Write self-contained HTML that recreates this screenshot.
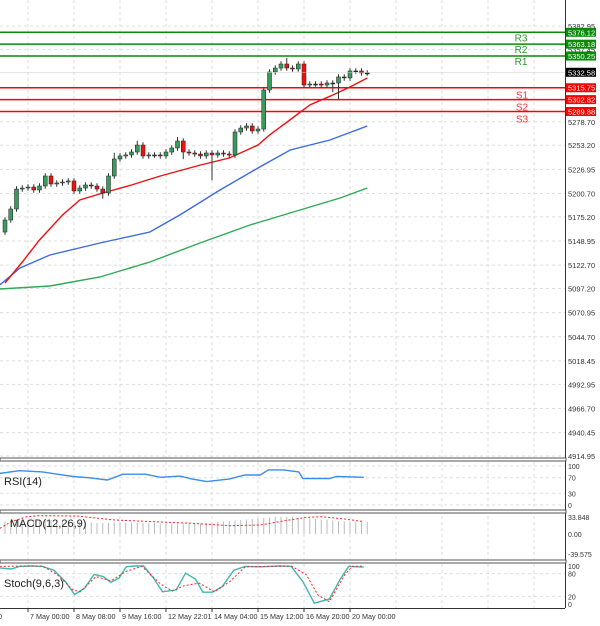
<!DOCTYPE html>
<html><head><meta charset="utf-8"><style>
body{margin:0;background:#fff;}
svg{display:block;font-family:"Liberation Sans",sans-serif;}
</style></head><body>
<svg id="c" width="600" height="626" viewBox="0 0 600 626"></svg>
<script>
// ===== data =====
const closes=[5171.8,5183.8,5205.5,5206.6,5207.7,5204.5,5208.8,5219.7,5211.0,5212.1,5213.2,5214.3,5203.4,5206.6,5209.9,5208.8,5205.5,5201.2,5219.7,5238.2,5241.5,5242.6,5245.8,5253.4,5241.5,5242.6,5242.6,5241.5,5245.8,5250.2,5257.8,5245.8,5244.7,5243.6,5241.5,5244.7,5242.6,5244.7,5243.6,5242.6,5267.6,5271.9,5274.1,5268.7,5270.8,5313.3,5332.9,5337.2,5341.6,5337.2,5336.2,5341.6,5318.7,5319.8,5319.8,5318.7,5320.9,5320.9,5327.5,5326.4,5334.0,5334.0,5331.8,5331.8];
const firstOpen=5158.7;
const wickExtHi={49:5348.0,19:5245,23:5258,30:5262};
const wickExtLo={36:5215.0,45:5268.0,57:5311.0,58:5303.5,31:5238,17:5195};
const maRedIdx=[0,3,6,10,13,17,22,27,34,39,44,46,50,53,57,60,63];
const maRed=[5103.2,5126.1,5150.0,5177.2,5193.6,5201.2,5209.9,5219.7,5231.7,5239.3,5253.4,5264.3,5282.8,5297.0,5307.9,5316.6,5326.4];
const maBlueIdx=[-0.9,2.6,7.8,16.5,25.2,30.4,37.4,44.3,49.6,56.5,63];
const maBlue=[5101.1,5119.6,5133.7,5146.8,5158.7,5177.2,5204.5,5229.5,5248.0,5258.9,5274.1];
const maGreenIdx=[-0.9,7.8,16.5,25.2,33.9,42.6,51.3,58.3,63];
const maGreen=[5096.7,5100.0,5109.8,5126.1,5146.8,5166.4,5182.7,5195.8,5206.6];
const levelNames=["R3","R2","R1","S1","S2","S3"];
const levelValues=[5376.12,5363.18,5350.25,5315.75,5302.82,5289.88];
const priceTicks=[5382.95,5357.45,5278.70,5253.20,5226.95,5200.70,5175.20,5148.95,5122.70,5097.20,5070.95,5044.70,5018.45,4992.95,4966.70,4940.45,4914.95];
const lastPrice=5332.58;
const rsiIdx=[-0.9,2.5,6.5,9.1,11.8,14.5,17.8,20.5,24.4,27.1,30.4,32.5,35.1,39.1,41.7,44.4,45.8,48.4,51.1,51.8,56.4,57.7,62.4];
const rsiVals=[81,88,85,79,73,70,64,79,79,71,74,67,60,67,77,77,90,90,85,68,68,73,71];
const macdHist=[26,27,28,29,29,29,29,29,28,28,27,26,25,24,23,23,22,22,22,23,23,23,23,22,22,22,22,21,21,21,21,21,21,21,21,22,23,24,25,26,27,28,29,30,31,32,33,34,34,34,34,33,32,31,30,29,28,27,26,25,25,24,24,24];
const macdSigIdx=[-0.9,1.1,3.8,5.8,12.5,19.1,25.8,32.5,39.1,44.4,48.4,52.4,55.1,59.1,62.4];
const macdSig=[11.3,24.6,34.5,36.5,35.9,27.9,24.6,21.3,16.6,17.9,25.9,33.2,34.5,29.9,24.6];
const stMainIdx=[-0.9,1.1,2.5,4.5,6.5,8.5,10.5,12.1,13.8,15.5,17.1,18.4,19.8,21.1,22.5,24.1,25.8,27.4,29.8,31.4,33.1,34.4,36.1,37.8,39.8,41.8,44.4,47.8,49.8,51.8,53.8,56.4,58.4,59.8,62.4];
const stMain=[95,92,99,100,99,89,59,25,41,78,72,57,68,98,100,100,69,32,37,81,66,31,31,46,89,99,98,100,99,59,2,13,68,99,97];
const stSigIdx=[-0.9,3.1,6.5,9.1,11.8,13.1,15.8,18.4,21.1,23.8,27.1,29.1,31.1,33.8,36.4,39.1,41.8,45.8,49.8,52.4,54.4,56.4,59.1,60.4,62.4];
const stSig=[99,100,100,77,37,32,72,61,86,99,52,34,48,55,32,59,98,99,100,77,24,6,77,99,100];
const timeLabels=["20:00","7 May 00:00","8 May 08:00","9 May 16:00","12 May 22:01","14 May 04:00","15 May 12:00","16 May 20:00","20 May 00:00"];
const timeTickX=[-18,28,74,120,166,212,258,304,350];

// ===== scales =====
const NS='http://www.w3.org/2000/svg';
const svg=document.getElementById('c');
const xI=i=>5+i*5.75;
const yP=p=>26+(5382.95-p)*0.9188;
const yRsi=v=>505-v*0.39;
const yMacd=v=>534-v*0.502;
const ySt=v=>604-v*0.38;
function mk(t,a,parent){const e=document.createElementNS(NS,t);for(const k in a)e.setAttribute(k,a[k]);(parent||svg).appendChild(e);return e;}
function txt(x,y,s,size,fill,anchor){const e=mk('text',{x:x,y:y,'font-size':size,fill:fill,'text-anchor':anchor||'start'});e.textContent=s;return e;}

// grid
const grid=mk('g',{});


for(let k=0;k<13;k++){const x=28+k*46;if(x<565)mk('line',{x1:x,y1:0,x2:x,y2:608,stroke:'#ddd','stroke-dasharray':'3,3'},grid);}
priceTicks.forEach(p=>mk('line',{x1:0,y1:yP(p),x2:565,y2:yP(p),stroke:'#ddd','stroke-dasharray':'3,3'},grid));
[100,70,30,0].forEach(v=>mk('line',{x1:0,y1:yRsi(v),x2:565,y2:yRsi(v),stroke:'#ddd','stroke-dasharray':'3,3'},grid));
[80,20].forEach(v=>mk('line',{x1:0,y1:ySt(v),x2:565,y2:ySt(v),stroke:'#ddd','stroke-dasharray':'3,3'},grid));

// levels
levelNames.forEach((n,i)=>{
  const y=yP(levelValues[i]);const isR=n[0]==='R';const col=isR?'#0a8a0a':'#f00';
  const l=mk('line',{x1:0,y1:y,x2:565,y2:y,stroke:col,'stroke-width':1.5});
  
  
  const t=txt(isR?521:522,y+(isR?9:11),n,10,isR?'#2a9a2a':'#f33','middle');
  
  
});

// MAs
function poly(idx,vals,yf,col,name,dash){
  const pts=idx.map((d,i)=>xI(d).toFixed(1)+','+yf(vals[i]).toFixed(1)).join(' ');
  const e=mk('polyline',{points:pts,fill:'none',stroke:col,'stroke-width':dash?1:1.4,'stroke-dasharray':dash||''});
  
  
  return e;
}
poly(maGreenIdx,maGreen,yP,'#2eaa55','ma-green');
poly(maBlueIdx,maBlue,yP,'#3b6be0','ma-blue');
poly(maRedIdx,maRed,yP,'#f01010','ma-red');

// candles
closes.forEach((c,i)=>{
  const o=i===0?firstOpen:closes[i-1];
  const hi=wickExtHi[i]!==undefined?wickExtHi[i]:Math.max(o,c)+3;
  const lo=wickExtLo[i]!==undefined?wickExtLo[i]:Math.min(o,c)-3;
  const x=xI(i);
  const g=mk('g',{});
  
  
  mk('line',{x1:x,y1:yP(hi),x2:x,y2:yP(lo),stroke:'#333','stroke-width':1},g);
  const top=yP(Math.max(o,c)),h=Math.max(1,yP(Math.min(o,c))-top);
  const fill=c>o?'#3a9a5c':(c<o?'#ee1111':'#333');
  mk('rect',{x:x-2,y:top,width:4,height:h,fill:fill,stroke:'#222','stroke-width':0.5},g);
});

// last price line & tags
mk('line',{x1:0,y1:yP(lastPrice),x2:565,y2:yP(lastPrice),stroke:'#ccc','stroke-width':0.5});
// axes frame
mk('line',{x1:565.5,y1:0,x2:565.5,y2:608,stroke:'#333'});
mk('line',{x1:0,y1:608.5,x2:565,y2:608.5,stroke:'#333'});
[458,510,560].forEach(y=>{mk('rect',{x:0,y:y,width:566,height:3,fill:'#fff',stroke:'#555','stroke-width':1});});

priceTicks.forEach(p=>{const t=txt(568,yP(p)+3,p.toFixed(2),7.5,'#333');
  
  });
function tag(v,col,name){const y=yP(v);
  const g=mk('g',{});
  
  
  mk('rect',{x:566,y:y-4.5,width:30,height:9,fill:col},g);
  const t=mk('text',{x:568,y:y+3,'font-size':7.5,fill:'#fff'},g);t.textContent=v.toFixed(2);}
levelValues.forEach((v,i)=>tag(v,i<3?'#0a8a0a':'#f00','tag-'+levelNames[i].toLowerCase()));
tag(lastPrice,'#000','tag-last-price');

// RSI
poly(rsiIdx,rsiVals,yRsi,'#3a8ee8','rsi-line');
txt(4,485,'RSI(14)',11,'#222');
[[100,'100'],[70,'70'],[30,'30'],[0,'0']].forEach(a=>txt(568,yRsi(a[0])+3,a[1],7,'#333'));

// MACD
macdHist.forEach((v,i)=>{const r=mk('line',{x1:xI(i),y1:yMacd(0),x2:xI(i),y2:yMacd(v),stroke:'#bbb','stroke-width':1});
  
  });
poly(macdSigIdx,macdSig,yMacd,'#f22','macd-signal','2,2');
txt(10,527,'MACD(12,26,9)',11,'#222');
txt(568,yMacd(33.848)+3,'33.848',7,'#333');
txt(568,yMacd(0)+3,'0.00',7,'#333');
txt(568,yMacd(-39.575)+3,'-39.575',7,'#333');

// Stoch
poly(stMainIdx,stMain,ySt,'#3cb8b0','stoch-main');
poly(stSigIdx,stSig,ySt,'#f22','stoch-signal','2,2');
txt(4,587,'Stoch(9,6,3)',11,'#222');
[[100,'100'],[80,'80'],[20,'20'],[0,'0']].forEach(a=>txt(568,ySt(a[0])+3,a[1],7,'#333'));

// time axis
timeLabels.forEach((s,i)=>{const x=timeTickX[i];
  mk('line',{x1:x,y1:608,x2:x,y2:612,stroke:'#333'});
  const t=txt(x+2,619,s,7.2,'#333');
  
  });
</script>
</body></html>
